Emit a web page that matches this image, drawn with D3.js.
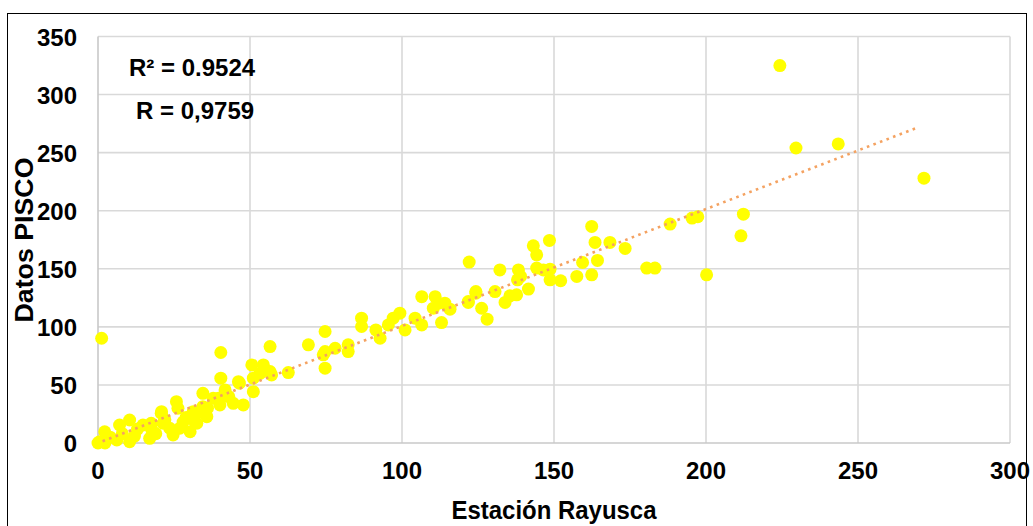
<!DOCTYPE html>
<html lang="en">
<head>
  <meta charset="utf-8">
  <script src="https://d3js.org/d3.v7.min.js"></script>
  <style>
    body { margin: 0; background: white; font-family: 'Liberation Sans', Arial, sans-serif; }
    .grid line { stroke: #d9d9d9; stroke-width: 1.6; }
    .tick-label { font-size: 24px; font-weight: bold; fill: #000; }
    .axis-title { font-size: 26px; font-weight: bold; fill: #000; }
    .stat { font-size: 24px; font-weight: bold; fill: #000; }
  </style>
</head>
<body>
  <svg id="chart" width="1033" height="526"></svg>
  <script>
    // Estación Rayusca (x) vs Datos PISCO (y)
    const estacion = [0, 0.5, 1.2, 2.2, 2.3, 4, 6.2, 7.1, 8, 10.4, 10.4, 12, 13, 14.8, 17.5, 17.7, 17, 19,
      20.8, 21.4, 22, 23.6, 24.7, 25.8, 26.3, 26.9, 20.9, 28, 29, 31.8, 30.3, 31.3, 34.5, 34.5, 32.5, 32.5,
      35.8, 36, 37.9, 39.6, 40.1, 40.4, 40.4, 41.8, 43, 44.5, 46.5, 47.8, 46.2, 51.1, 50.6, 51.1, 53.3, 54.4,
      56.6, 56.6, 57.1, 62.6, 69.2, 74.7, 74.1, 74.7, 74.7, 78, 82.3, 82.3, 86.7, 86.7, 91.4, 92.8, 95.5,
      97.1, 99.3, 101, 104.3, 106.5, 106.5, 110.9, 112, 110.3, 114.1, 115.8, 113, 121.8, 124.3, 122.1,
      121.8, 124.3, 126.2, 128, 130.6, 132.2, 133.9, 135.5, 137.7, 141.6, 138, 138.3, 139, 143.2, 144.3,
      144.3, 146.5, 148.7, 148.5, 148.7, 152.2, 157.5, 159.4, 162.4, 162.4, 163.5, 164.3, 168.4, 173.4,
      180.5, 183.2, 188.2, 195.4, 197.3, 200.2, 211.5, 212.3, 224.3, 229.6, 243.5, 271.7];
    const pisco = [0, 1, 90.2, 9.7, 0, 5, 2.6, 15.5, 8, 19.8, 1.1, 6, 12, 15.5, 17, 11.2, 4, 8,
      25.6, 17, 20, 12.7, 6.9, 35.6, 29.9, 12.7, 27, 18, 22, 18.4, 9.7, 27, 42.8, 31.3, 25.6, 17,
      22.7, 30, 38.5, 38.5, 32.8, 77.9, 55.8, 45.7, 40, 34.2, 51.5, 32.8, 52.8, 44.2, 67.2, 55.8, 60, 67.2,
      83, 61.5, 58.6, 60.6, 84.5, 96, 75.9, 64.4, 78.7, 81.6, 84.5, 78.7, 107.5, 100.3, 97.4, 90.2, 101.7,
      107.5, 111.8, 97.4, 107.5, 101.7, 126, 126, 120.4, 116.1, 120.4, 115.2, 103.7, 121.8, 129, 155.8,
      121, 130.4, 116, 106.6, 130.4, 149, 121, 126.7, 127.6, 132.5, 140.5, 149, 143.4, 169.8, 162,
      150.6, 149, 149.7, 174.4, 140.5, 139.7, 143.4, 155.4, 144.8, 186.5, 172.7, 157.2, 172.7, 167.5,
      150.6, 150.6, 188.5, 193.7, 194.8, 144.8, 178.4, 197, 325, 254, 257.5, 228];

    const xTicks = [0, 50, 100, 150, 200, 250, 300];
    const yTicks = [0, 50, 100, 150, 200, 250, 300, 350];
    const trendX = [1.5, 270];
    const trendY = [1.5, 272];
    const stats = ["R\u00b2 = 0.9524", "R = 0,9759"];

    const svg = d3.select("#chart");
    const x = d3.scaleLinear().domain([0, 300]).range([98, 1010]);
    const y = d3.scaleLinear().domain([0, 350]).range([443, 36.5]);

    // frame
    svg.append("rect")
      .attr("x", 7.5).attr("y", 13.5)
      .attr("width", 1019).attr("height", 540)
      .attr("fill", "none").attr("stroke", "#000").attr("stroke-width", 1);

    // gridlines
    const grid = svg.append("g").attr("class", "grid");
    grid.selectAll(".gx").data(xTicks.slice(1)).enter().append("line")
      .attr("x1", d => x(d)).attr("x2", d => x(d))
      .attr("y1", y(350)).attr("y2", y(0));
    grid.selectAll(".gy").data(yTicks.slice(1)).enter().append("line")
      .attr("x1", x(0)).attr("x2", x(300))
      .attr("y1", d => y(d)).attr("y2", d => y(d));

    // axis lines
    svg.append("line").attr("x1", x(0)).attr("x2", x(0)).attr("y1", y(350)).attr("y2", y(0))
      .attr("stroke", "#c8c8c8").attr("stroke-width", 1.6);
    svg.append("line").attr("x1", x(0)).attr("x2", x(300)).attr("y1", y(0)).attr("y2", y(0))
      .attr("stroke", "#c8c8c8").attr("stroke-width", 1.6);

    // tick labels
    svg.selectAll(".xl").data(xTicks).enter().append("text")
      .attr("class", "tick-label")
      .attr("x", d => x(d)).attr("y", 479)
      .attr("text-anchor", "middle")
      .text(d => d);
    svg.selectAll(".yl").data(yTicks).enter().append("text")
      .attr("class", "tick-label")
      .attr("x", 77).attr("y", d => y(d) + 9)
      .attr("text-anchor", "end")
      .text(d => d);

    // points
    svg.append("g").selectAll("circle")
      .data(estacion.map((v, i) => [v, pisco[i]]))
      .enter().append("circle")
      .attr("cx", d => x(d[0])).attr("cy", d => y(d[1]))
      .attr("r", 6.5)
      .attr("fill", "#ffff00");

    // trend line
    svg.append("path")
      .attr("d", d3.line()(trendX.map((v, i) => [x(v), y(trendY[i])])))
      .attr("fill", "none")
      .attr("stroke", "#f4a261")
      .attr("stroke-width", 2.6)
      .attr("stroke-dasharray", "2.6 4.4");

    // R labels
    svg.append("text").attr("class", "stat").attr("x", 129).attr("y", 76).text(stats[0]);
    svg.append("text").attr("class", "stat").attr("x", 136).attr("y", 119).text(stats[1]);

    // axis titles
    svg.append("text").attr("class", "axis-title")
      .attr("transform", "translate(33,240) rotate(-90)")
      .attr("text-anchor", "middle")
      .attr("textLength", 165).attr("lengthAdjust", "spacingAndGlyphs")
      .text("Datos PISCO");
    svg.append("text").attr("class", "axis-title")
      .attr("x", 554).attr("y", 519)
      .attr("text-anchor", "middle")
      .attr("textLength", 205).attr("lengthAdjust", "spacingAndGlyphs")
      .text("Estación Rayusca");
  </script>
</body>
</html>
